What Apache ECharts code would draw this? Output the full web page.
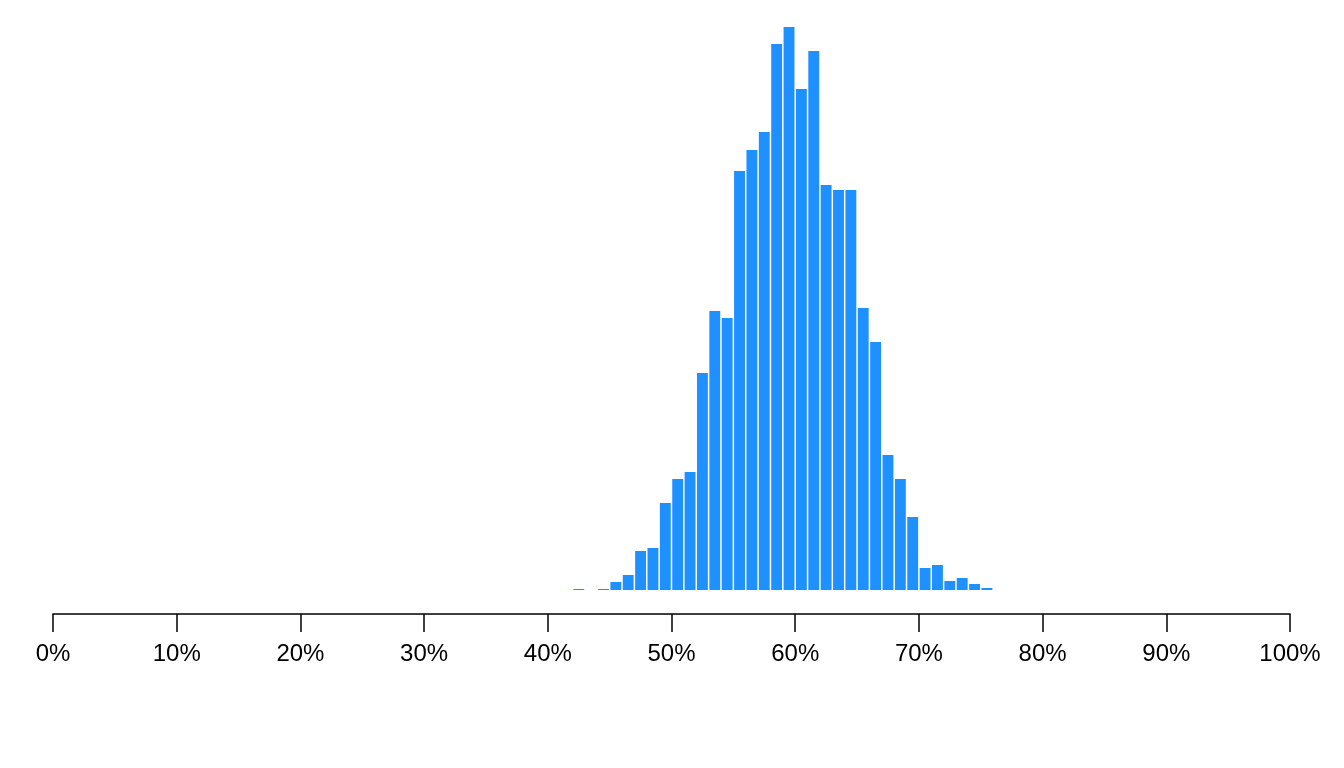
<!DOCTYPE html>
<html><head><meta charset="utf-8">
<script src="https://cdn.jsdelivr.net/npm/echarts@6/dist/echarts.min.js"></script>
<style>html,body{margin:0;padding:0;background:#fff}#c{width:1344px;height:768px}</style>
</head><body><div id="c"></div>
<script>
const binStarts = [42,43,44,45,46,47,48,49,50,51,52,53,54,55,56,57,58,59,60,61,62,63,64,65,66,67,68,69,70,71,72,73,74,75];
const counts = [1,0,1,8,15,39,42,87,111,118,217,279,272,419,440,458,546,563,501,539,405,400,400,282,248,135,111,73,22,25,9,12,6,2];
const tickLabels = [0,10,20,30,40,50,60,70,80,90,100];

const cats = [];
const vals = [];
for (let i = 0; i < 100; i++) { cats.push(i); vals.push(0); }
binStarts.forEach((b, i) => { vals[b] = counts[i]; });

const chart = echarts.init(document.getElementById('c'));
chart.setOption({
  animation: false,
  grid: {left: 53, right: 54, top: 27, bottom: 178},
  xAxis: [
    {type: 'category', data: cats, show: false, boundaryGap: true},
    {type: 'value', min: 0, max: 100, interval: 10, position: 'bottom', offset: 24,
     axisLine: {show: true, lineStyle: {color: '#000', width: 1.5}},
     axisTick: {show: true, length: 18, lineStyle: {color: '#000', width: 1.5}},
     splitLine: {show: false},
     axisLabel: {color: '#000', fontSize: 24, fontFamily: 'Liberation Sans, Arial', margin: 28,
       formatter: v => tickLabels.includes(v) ? v + '%' : ''}}
  ],
  yAxis: {type: 'value', min: 0, max: 563, show: false},
  series: [{type: 'bar', xAxisIndex: 0, data: vals, barCategoryGap: '12%',
    itemStyle: {color: '#1E90FF'}}]
});
</script></body></html>
